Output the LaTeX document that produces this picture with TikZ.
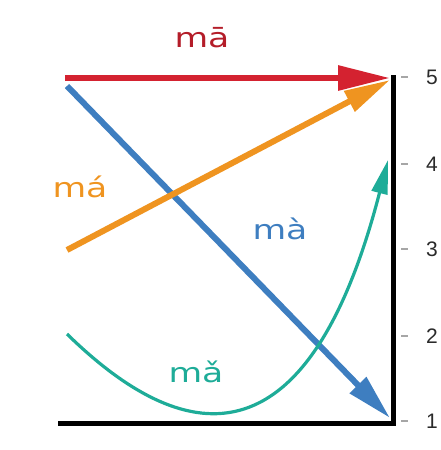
\documentclass[tikz,border=0pt]{standalone}
\usepackage{fontspec}
\setmainfont{Liberation Sans}
\newfontfamily\tonefont[FakeStretch=1.28]{DejaVu Sans}
\usetikzlibrary{arrows.meta}
\definecolor{tnred}{HTML}{D42230}
\definecolor{tnorange}{HTML}{EF9420}
\definecolor{tnblue}{HTML}{3E7EC0}
\definecolor{tnteal}{HTML}{1EAC98}
\definecolor{tngray}{HTML}{2A2A2A}

\begin{document}
\begin{tikzpicture}[x=1pt,y=-1pt,
    axis/.style={line width=5pt,draw=black},
    tick/.style={line width=1.2pt,draw=gray!70},
    lvl/.style={font=\fontsize{21}{21}\selectfont,text=tngray,anchor=west,inner sep=0pt},
    tone/.style={font=\tonefont\fontsize{27}{27}\selectfont,inner sep=0pt,anchor=base},
    flow/.style={line width=6pt,-{Triangle[length=40pt,width=24pt]}}
  ]
    \useasboundingbox (0,0) rectangle (441,450);
    % scale levels on the right
    \foreach \n/\y in {5/77,4/164,3/249,2/336,1/421}{
      \coordinate (t\n) at (401,\y);
      \draw[tick] (t\n) -- ++(7,0);
      \node[lvl] (n\n) at (426,\y) {\n};
    }
    \coordinate (top) at (393,75);
    \coordinate (corner) at (393,423);
    \coordinate (left) at (58,423);
    \draw[axis] (top) -- (corner) -- (left);
    % start and end points
    \coordinate (s5) at (65,78);
    \coordinate (e5) at (390,78);
    \coordinate (s3) at (67,250);
    \coordinate (e5b) at (390,80);
    \coordinate (s5b) at (67,86);
    \coordinate (e1) at (390,418);
    \coordinate (s2) at (67,334);
    \coordinate (e4) at (388,160);
    % tones
    \draw[flow,draw=tnblue,fill=tnblue,-{Triangle[length=46pt,width=22pt]}] (s5b) -- (e1);
    \draw[draw=tnteal,line width=3.2pt,-{Triangle[length=34pt,width=16pt]}]
      (s2) .. controls (160,425) and (300,500) .. (e4);
    \draw[flow,draw=tnorange,fill=tnorange,-{Triangle[length=46pt,width=22pt]}] (s3) -- (e5b);
    \draw[flow,draw=tnred,fill=tnred,-{Triangle[length=52pt,width=24pt]}] (s5) -- (e5);
    % labels
    \node[tone,text=tnred!85!black] (ma1) at (202,47) {mā};
    \node[tone,text=tnorange] (ma2) at (80,197) {má};
    \node[tone,text=tnblue] (ma4) at (280,239) {mà};
    \node[tone,text=tnteal] (ma3) at (196,382) {mǎ};
  \end{tikzpicture}
\end{document}
